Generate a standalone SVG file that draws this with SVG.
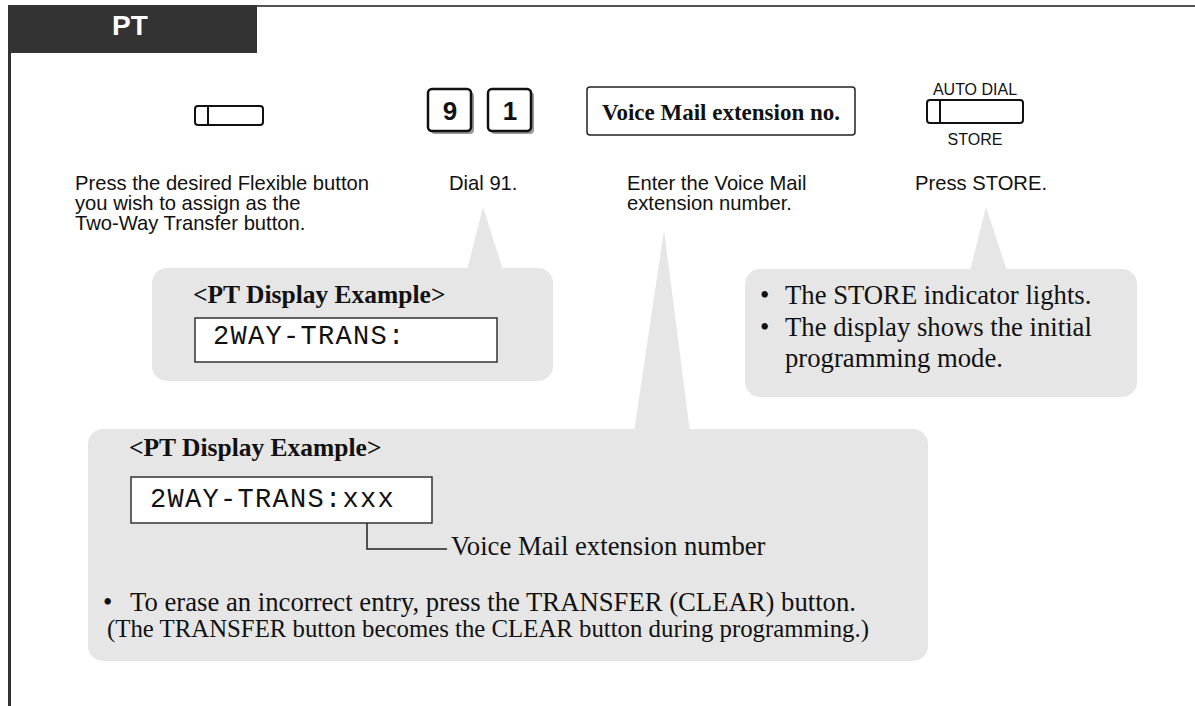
<svg xmlns="http://www.w3.org/2000/svg" width="1195" height="706" viewBox="0 0 1195 706">
<style>
.sans{font-family:"Liberation Sans",Arial,sans-serif;font-size:20.2px;fill:#111}
.small{font-family:"Liberation Sans",Arial,sans-serif;font-size:16px;fill:#111}
.serif{font-family:"Liberation Serif","Times New Roman",serif;font-size:26.7px;fill:#111}
.serifb{font-family:"Liberation Serif","Times New Roman",serif;font-size:25.5px;font-weight:bold;fill:#111}
.mono{font-family:"Liberation Mono","Courier New",monospace;font-size:27px;letter-spacing:1.3px;fill:#111}
.call{fill:#e6e6e6}
.btn{fill:#fff;stroke:#111;stroke-width:2}
.key{fill:#fff;stroke:#111;stroke-width:2.5}
.shadow{fill:#999}
.disp{fill:#fff;stroke:#333;stroke-width:1.5}
.keytxt{font-family:"Liberation Sans",Arial,sans-serif;font-size:26px;font-weight:bold;fill:#111;text-anchor:middle}
</style>
<rect width="1195" height="706" fill="#fff"/>
<g id="frame">
<rect x="8" y="5" width="249" height="48" fill="#333"/>
<text x="130" y="35" font-family="Liberation Sans,Arial,sans-serif" font-size="28" font-weight="bold" fill="#fff" text-anchor="middle">PT</text>
<line x1="257" y1="6" x2="1195" y2="6" stroke="#555" stroke-width="2"/>
<line x1="9.5" y1="53" x2="9.5" y2="706" stroke="#333" stroke-width="3"/>
</g>
<g id="callouts">
<g id="callout1">
<polygon class="call" points="467,270 483,207 503,270"/>
<rect class="call" x="152" y="268" width="401" height="113" rx="15"/>
<text class="serifb" x="193" y="303">&lt;PT Display Example&gt;</text>
<rect class="disp" x="195" y="318" width="302" height="44"/>
<text class="mono" x="213" y="344">2WAY-TRANS:</text>
</g>
<g id="callout2">
<polygon class="call" points="970,271 986,207 1007,271"/>
<rect class="call" x="745" y="269" width="392" height="128" rx="15"/>
<text class="serif" x="760" y="304">•</text>
<text class="serif" x="785" y="304">The STORE indicator lights.</text>
<text class="serif" x="760" y="336">•</text>
<text class="serif" x="785" y="336">The display shows the initial</text>
<text class="serif" x="785" y="367">programming mode.</text>
</g>
<g id="callout3">
<polygon class="call" points="634,432 664,230 690,432"/>
<rect class="call" x="88" y="429" width="840" height="232" rx="15"/>
<text class="serifb" x="129" y="456">&lt;PT Display Example&gt;</text>
<rect class="disp" x="131" y="477" width="301" height="46"/>
<text class="mono" x="150" y="507">2WAY-TRANS:xxx</text>
<polyline points="367,523 367,549 447,549" fill="none" stroke="#222" stroke-width="1.5"/>
<text class="serif" x="451" y="555">Voice Mail extension number</text>
<text class="serif" x="103" y="611">•</text>
<text class="serif" x="130" y="611">To erase an incorrect entry, press the TRANSFER (CLEAR) button.</text>
<text class="serif" x="107" y="637" style="font-size:24.8px">(The TRANSFER button becomes the CLEAR button during programming.)</text>
</g>
</g>
<g id="step1">
<rect class="btn" x="195" y="106" width="68" height="19" rx="3"/>
<line x1="208" y1="106" x2="208" y2="125" stroke="#111" stroke-width="2"/>
<text class="sans" x="75" y="190">Press the desired Flexible button</text>
<text class="sans" x="75" y="210">you wish to assign as the</text>
<text class="sans" x="75" y="230">Two-Way Transfer button.</text>
</g>
<g id="step2">
<rect class="shadow" x="431" y="92" width="43" height="42" rx="4"/>
<rect class="key" x="428" y="89" width="43" height="42" rx="4"/>
<text class="keytxt" x="450" y="120">9</text>
<rect class="shadow" x="491" y="92" width="43" height="42" rx="4"/>
<rect class="key" x="488" y="89" width="43" height="42" rx="4"/>
<text class="keytxt" x="510" y="120">1</text>
<text class="sans" x="449" y="190">Dial 91.</text>
</g>
<g id="step3">
<rect x="587" y="87" width="268" height="48" rx="3" fill="#fff" stroke="#222" stroke-width="1.5"/>
<text x="721" y="120" font-family="Liberation Serif,Times New Roman,serif" font-size="23" font-weight="bold" fill="#111" text-anchor="middle">Voice Mail extension no.</text>
<text class="sans" x="627" y="190">Enter the Voice Mail</text>
<text class="sans" x="627" y="210">extension number.</text>
</g>
<g id="step4">
<text class="small" x="975" y="95" text-anchor="middle">AUTO DIAL</text>
<rect class="btn" x="927" y="100" width="96" height="23" rx="3"/>
<line x1="940" y1="100" x2="940" y2="123" stroke="#111" stroke-width="2"/>
<text class="small" x="975" y="145" text-anchor="middle">STORE</text>
<text class="sans" x="915" y="190">Press STORE.</text>
</g>
</svg>
